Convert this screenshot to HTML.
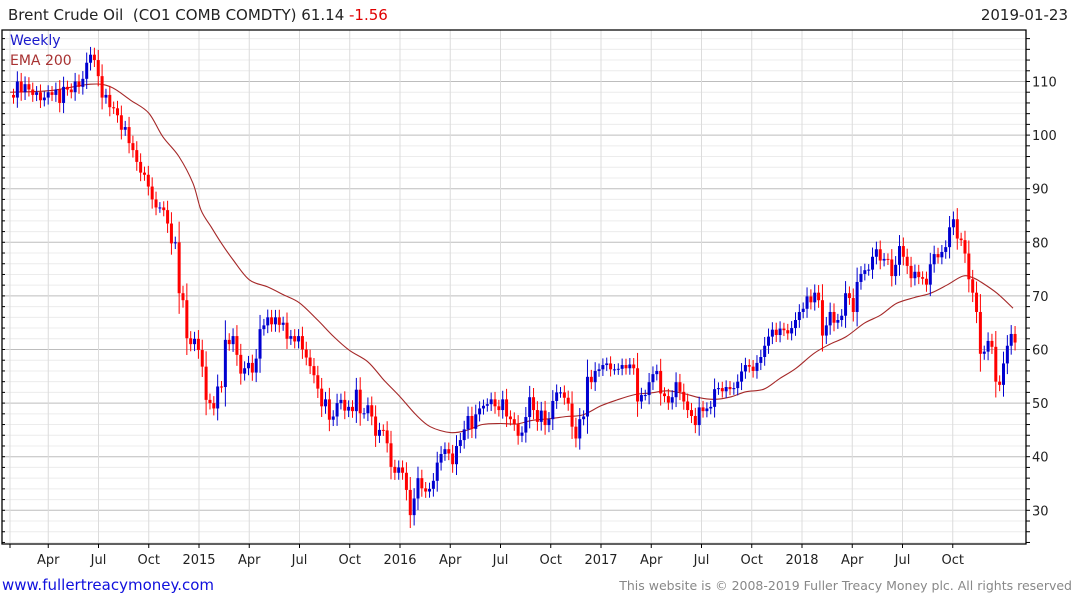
<!DOCTYPE html>
<html><head><meta charset="utf-8">
<style>
html,body{margin:0;padding:0;background:#fff;width:1075px;height:600px;overflow:hidden;font-family:"DejaVu Sans","Liberation Sans",sans-serif;}
svg{position:absolute;left:0;top:0}
</style></head>
<body>
<svg id="chart" width="1075" height="600" xmlns="http://www.w3.org/2000/svg">
  <text x="8" y="20" font-size="15" fill="#222" xml:space="preserve">Brent Crude Oil  (CO1 COMB COMDTY) 61.14 <tspan fill="#e00000">-1.56</tspan></text>
  <text x="1068" y="20" font-size="15" fill="#222" text-anchor="end">2019-01-23</text>
  <g id="grid"></g>
  <g id="ema"></g>
  <g id="candles"></g>
  <g id="axes"></g>
  <text x="10" y="45" font-size="14" fill="#1a1acc">Weekly</text>
  <text x="10" y="65" font-size="14" fill="#a83232">EMA 200</text>
  <text x="2" y="590" font-size="15" fill="#1010dd">www.fullertreacymoney.com</text>
  <text x="1072" y="590" font-size="12.5" fill="#888" text-anchor="end">This website is © 2008-2019 Fuller Treacy Money plc. All rights reserved</text>
</svg>
<script>
const closes = [
107,110,108,109.5,108.5,107.5,108,106.5,107,108,107.5,108.5,106,109,108.5,108,110,109,110.5,113.5,115,114,111,
107,107.5,105.2,105,103.7,101,101.5,98.5,97.2,95,93,92.6,90.4,88,86.5,86.5,86,83.5,79.8,80,70.5,69.2,62.1,61,62,59.9,56.8,50.6,50,49,53.1,
53,61.8,61,62.5,59,55.5,56.5,57.5,55.7,58.3,63.8,64.5,66,64.7,66,64.6,65,62,62.5,61.5,62.5,60,58.5,56.9,55.2,52.7,49.4,50.7,46.9,47.5,50,50.6,48.6,49.3,48.5,52.5,
48.1,48.1,49.6,47.5,43.9,45,44.9,42.5,38.1,37,38,37,33.8,29.1,32.2,36,34.1,33.5,34,35.5,38.9,40.5,41.4,40.6,38.6,42,43.1,45.1,47.6,45.2,47.9,49,49.5,49.8,50.7,49.4,48.7,50.7,47.5,47,46.1,43.9,44.5,47.4,51.1,48.7,46.5,48.6,45.9,47,50.4,52,52,51,49.9,45.6,43.4,47,47.5,54.9,53.9,56,56.3,57.1,57.4,56.3,56.3,56.4,57.1,56.5,57.2,56.5,50.3,51.5,51.5,53.9,55.4,56,51.8,51.3,50.1,51.1,53.9,52.1,50.3,48.7,47.6,45.9,49.2,
48.5,49,49.3,52.6,52.8,52.2,53,52.6,52.8,54,55.9,57.1,56.8,56,57.5,58.6,60.7,62.4,63.7,62.7,63.9,63.6,63,64,65.5,67,67.6,69.9,68.8,70.6,69.2,62.6,64.5,67,65,65.5,66.3,70.5,69.6,67,72.6,74.1,74.8,74.9,77.3,78.7,76.6,76.9,76.8,73.7,75.8,79.3,77.3,75.6,73.3,74.5,73.5,73.2,72.1,75.9,77.8,77.2,78.2,79.1,82.8,84.3,80.7,80.4,77.9,73.1,70.6,67,59.2,59.6,61.6,60.5,54,53.4,57.4,60.7,62.9,61.3
];
const emaDates = [2014.06,2014.26,2014.46,2014.56,2014.66,2014.75,2014.82,2014.9,2014.97,2015.01,2015.06,2015.11,2015.17,2015.25,2015.34,2015.42,2015.5,2015.59,2015.67,2015.75,2015.84,2015.92,2016.0,2016.08,2016.15,2016.25,2016.33,2016.41,2016.5,2016.58,2016.66,2016.75,2016.83,2016.91,2017.0,2017.08,2017.17,2017.25,2017.33,2017.41,2017.49,2017.56,2017.64,2017.72,2017.81,2017.89,2017.97,2018.06,2018.14,2018.22,2018.31,2018.39,2018.47,2018.56,2018.64,2018.72,2018.8,2018.85,2018.89,2018.97,2019.05];
const emaValues = [108,108.3,109.5,109,106.5,104.1,99.7,96,91,86,82.9,79.9,76.7,73,71.7,70.2,68.7,65.5,62.4,59.8,57.7,54.3,51.2,47.8,45.6,44.5,44.9,46,46.2,46.1,46.8,47.1,47.5,47.8,49.5,50.6,51.6,51.9,52.3,51.8,51.0,50.7,51.1,52.1,52.6,54.6,56.5,59.3,61.0,62.4,64.9,66.4,68.6,69.7,70.5,72.0,73.7,73.4,72.6,70.5,67.7];
const yTicks = [30,40,50,60,70,80,90,100,110];
const xTickLabels = ["Apr","Jul","Oct","2015","Apr","Jul","Oct","2016","Apr","Jul","Oct","2017","Apr","Jul","Oct","2018","Apr","Jul","Oct"];
const xTickDates = [2014.25,2014.5,2014.75,2015,2015.25,2015.5,2015.75,2016,2016.25,2016.5,2016.75,2017,2017.25,2017.5,2017.75,2018,2018.25,2018.5,2018.75];
const endDate = 2019.06;

const NS="http://www.w3.org/2000/svg";
const L=2,R=1026,T=30,B=544;
function xs(t){return -2+201*(t-2014);}
function ys(v){return 81.5+(110-v)*5.36;}
function mk(tag,attrs,parent){const e=document.createElementNS(NS,tag);for(const k in attrs)e.setAttribute(k,attrs[k]);parent.appendChild(e);return e;}
const grid=document.getElementById('grid'),axes=document.getElementById('axes'),cg=document.getElementById('candles'),eg=document.getElementById('ema');

for(let v=24;v<=118;v+=2){
  const y=ys(v); if(y<T||y>B)continue;
  const major=v%10===0;
  const gl=mk('line',{x1:L,x2:R,y1:y,y2:y,stroke:major?'#bdbdbd':'#ececec','stroke-width':1},grid);
  
  
  const tk=mk('line',{x1:R,x2:R+4,y1:y,y2:y,stroke:'#000'},axes);
  
  
  const tl=mk('line',{x1:L,x2:L+3,y1:y,y2:y,stroke:'#000'},axes);
  
  
}
yTicks.forEach(v=>{
  const t=mk('text',{x:R+6,y:ys(v)+5,'font-size':13,fill:'#222'},axes);
  t.textContent=v;
  
  
});
const vx=[10].concat(xTickDates.map(xs));
vx.forEach(x=>{
  const g=mk('line',{x1:x,x2:x,y1:T,y2:B,stroke:'#dcdcdc'},grid);
  
  
  const tk=mk('line',{x1:x,x2:x,y1:B,y2:B+4,stroke:'#000'},axes);
  
  
});
xTickLabels.forEach((s,i)=>{
  const t=mk('text',{x:xs(xTickDates[i]),y:564,'font-size':13,fill:'#222','text-anchor':'middle'},axes);
  t.textContent=s;
  
  
});
const fr=mk('path',{d:`M${L} ${T}H${R}V${B}H${L}Z`,fill:'none',stroke:'#000','stroke-width':1.3},axes);



// EMA smooth (Catmull-Rom)
const P=emaDates.map((t,i)=>[xs(t),ys(emaValues[i])]);
let d='M'+P[0][0].toFixed(1)+' '+P[0][1].toFixed(1);
for(let i=0;i<P.length-1;i++){
  const p0=P[Math.max(0,i-1)],p1=P[i],p2=P[i+1],p3=P[Math.min(P.length-1,i+2)];
  const c1=[p1[0]+(p2[0]-p0[0])/6,p1[1]+(p2[1]-p0[1])/6];
  const c2=[p2[0]-(p3[0]-p1[0])/6,p2[1]-(p3[1]-p1[1])/6];
  d+=`C${c1[0].toFixed(1)} ${c1[1].toFixed(1)} ${c2[0].toFixed(1)} ${c2[1].toFixed(1)} ${p2[0].toFixed(1)} ${p2[1].toFixed(1)}`;
}
const ep=mk('path',{d:d,fill:'none',stroke:'#a52828','stroke-width':1.1},eg);



// candles
const n=closes.length;
closes.forEach((c,i)=>{
  const t=endDate-(n-1-i)*7/365.25;
  const x=xs(t);
  const o=i===0?c+0.5:closes[i-1];
  const up=c>=o;
  const col=up?'#0000d0':'#ff0000';
  const hi=Math.max(o,c)+1.0+0.3*Math.abs(c-o), lo=Math.min(o,c)-1.0-0.3*Math.abs(c-o);
  const w=mk('line',{x1:x,x2:x,y1:ys(hi),y2:ys(lo),stroke:col,'stroke-width':1},cg);
  
  
  const yt=ys(Math.max(o,c)),yb=ys(Math.min(o,c));
  const b=mk('rect',{x:x-1.5,y:yt,width:3,height:Math.max(1,yb-yt),fill:col},cg);
  
  
});
</script>
</body></html>
